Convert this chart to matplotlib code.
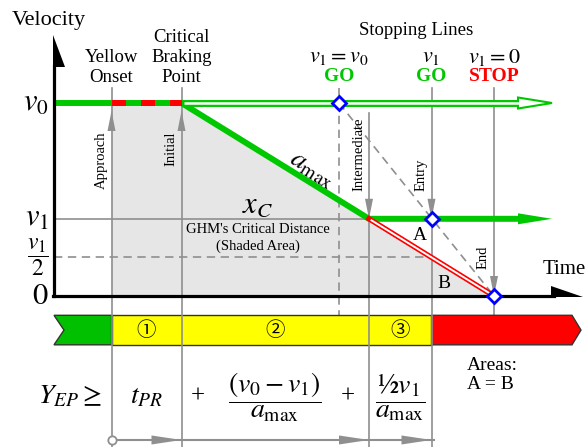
import numpy as np
import matplotlib.pyplot as plt
from matplotlib.patches import Polygon

plt.rcParams['font.family'] = ['Liberation Serif', 'DejaVu Serif']
plt.rcParams['mathtext.fontset'] = 'stix'
plt.rcParams['lines.scale_dashes'] = False

# speeds, relative to the approach speed
v0 = 1.0
v1 = 0.40

# key instants along the time axis
t_onset = 1.15   # yellow onset
t_brake = 2.55   # critical braking point
t_go = 5.7       # stopping line when v1 = v0
t_inter = 6.3    # end of braking (intermediate)
t_entry = 7.55   # entry at v1
t_end = 8.8      # full stop
t_arrow = 9.28   # speed lines end in arrowheads here

phase_marks = ['\u2460', '\u2461', '\u2462']
phase_edges = [t_onset, t_brake, t_inter, t_entry]

# drawing scale: 50 px per time unit, 193 px per speed unit
PX_T = 1 / 50
PX_V = 1 / 193

GREEN = '#00c800'
RED = '#ff0000'
BLUE = '#0000ff'
GRAY = '#8f8f8f'
SHADE = '#e6e6e6'

fig = plt.figure(figsize=(5.87, 4.47), dpi=100)
ax = fig.add_axes([0, 0, 1, 1])
ax.set_xlim(-54 * PX_T, 533 * PX_T)
ax.set_ylim(-151 * PX_V, 296 * PX_V)
ax.axis('off')
y_bottom = ax.get_ylim()[0]


def head(x, y, direction, length, half, color, fill=None, lw=0.0, z=5):
    """Triangular arrowhead with its tip at (x, y); sizes in pixels."""
    if direction == 'right':
        L, H = length * PX_T, half * PX_V
        pts = [(x, y), (x - L, y + H), (x - L, y - H)]
    elif direction == 'up':
        L, H = length * PX_V, half * PX_T
        pts = [(x, y), (x - H, y - L), (x + H, y - L)]
    else:  # down
        L, H = length * PX_V, half * PX_T
        pts = [(x, y), (x - H, y + L), (x + H, y + L)]
    ax.add_patch(Polygon(pts, closed=True, facecolor=fill or color,
                         edgecolor=color, lw=lw, zorder=z))


# shaded critical distance under the speed profile
profile_t = [t_onset, t_brake, t_inter, t_end]
profile_v = [v0, v0, v1, 0]
ax.fill(profile_t + [t_onset], profile_v + [0], color=SHADE, lw=0, zorder=1)

# guide lines
top_v = 1.078
ax.plot([0, t_inter], [v1, v1], color=GRAY, lw=1.2, zorder=2)
ax.plot([0, t_entry], [v1 / 2, v1 / 2], color=GRAY, lw=1.2,
        dashes=(6, 4), zorder=2)
ax.plot([t_go, t_end], [v0, 0], color=GRAY, lw=1.2, dashes=(6, 4), zorder=2)
ax.plot([t_go, t_go], [top_v, -0.1], color=GRAY, lw=1.2, dashes=(6, 4), zorder=2)
for t in [t_onset, t_brake, t_entry]:
    ax.plot([t, t], [top_v, y_bottom], color=GRAY, lw=1.2, zorder=3)
ax.plot([t_inter, t_inter], [0.948, y_bottom], color=GRAY, lw=1.2, zorder=3)
ax.plot([t_end, t_end], [top_v, -0.1], color=GRAY, lw=1.2, zorder=2)

# arrowheads on the guide lines
for t in [t_onset, t_brake]:
    head(t, v0 - 8 * PX_V, 'up', 20, 4, GRAY, z=3)
for t in [t_inter, t_entry]:
    head(t, v1, 'down', 20, 4, GRAY, z=3)
head(t_end, 0, 'down', 20, 4, GRAY, z=3)

# axes with half arrowheads
ax.plot([0, 0], [0, 1.19], color='black', lw=2.3, zorder=6)
ax.plot([-0.03, 10.0], [0, 0], color='black', lw=2.3, zorder=6)
ax.add_patch(Polygon([(-0.03, 1.352), (-0.03, 1.185), (0.22, 1.185)],
                     closed=True, color='black', lw=0, zorder=6))
ax.add_patch(Polygon([(9.94, 0.052), (9.94, -0.006), (10.58, -0.006)],
                     closed=True, color='black', lw=0, zorder=6))

# approach speed: solid up to braking, red flashing during perception
ax.plot([0, t_brake, t_inter, t_arrow], [v0, v0, v1, v1], color=GREEN,
        lw=4.3, solid_joinstyle='miter', solid_capstyle='butt', zorder=4)
ax.plot([t_onset, t_brake], [v0, v0], color=RED, lw=4.3,
        dashes=(10.1, 10.8), dash_capstyle='butt', zorder=4)
head(t_arrow + 34 * PX_T, v1, 'right', 34, 5.5, GREEN, z=4)

# hollow line: keeps going at v0
ax.plot([t_brake, t_arrow], [v0, v0], color=GREEN, lw=5, solid_capstyle='butt', zorder=4)
head(t_arrow + 34 * PX_T, v0, 'right', 34, 5.5, GREEN, fill='white', lw=1.5, z=4)
ax.plot([t_brake + 0.04, t_arrow + 2 * PX_T], [v0, v0], color='white', lw=1.8,
        solid_capstyle='butt', zorder=4)

# stopping from v1 (red double line)
inset = 0.05 * v1 / (t_end - t_inter)
ax.plot([t_inter, t_end], [v1, 0], color=RED, lw=3.8, zorder=4)
ax.plot([t_inter + 0.05, t_end - 0.05], [v1 - inset, inset],
        color='white', lw=1.4, zorder=4)

# stopping-line markers
ax.plot([t_go, t_entry, t_end], [v0, v1, 0], 'D', ms=7.5, mfc='white',
        mec=BLUE, mew=2, zorder=8)

# axis labels
ax.text(-0.84, 1.43, 'Velocity', fontsize=16, ha='left', va='center')
ax.text(9.78, 0.135, 'Time', fontsize=15, ha='left', va='center')
lab_x = -0.1
ax.text(lab_x, v0, r'$v_0$', fontsize=22, ha='right', va='center')
ax.text(lab_x, v1, r'$v_1$', fontsize=22, ha='right', va='center')
ax.text(lab_x, v1 / 2, r'$\dfrac{v_1}{2}$', fontsize=17, ha='right', va='center')
ax.text(lab_x, 0, r'$0$', fontsize=22, ha='right', va='center')

# event labels on top
ax.text(t_onset, 1.088, 'Yellow\nOnset', fontsize=13.5, ha='center', va='bottom',
        linespacing=1.25)
ax.text(t_brake, 1.088, 'Critical\nBraking\nPoint', fontsize=13.5, ha='center',
        va='bottom', linespacing=1.25)
ax.text(7.24, 1.378, 'Stopping Lines', fontsize=13.5, ha='center', va='center')
for t, lab, word, col in [(t_go, r'$v_1 = v_0$', 'GO', GREEN),
                          (t_entry, r'$v_1$', 'GO', GREEN),
                          (t_end, r'$v_1 = 0$', 'STOP', RED)]:
    ax.text(t, 1.238, lab, fontsize=16, ha='center', va='center')
    ax.text(t, 1.135, word, fontsize=14, fontweight='bold', color=col,
            ha='center', va='center')

# rotated labels on the guide lines
ax.text(t_onset - 0.08, 0.85, 'Approach', fontsize=10.5, rotation=90,
        ha='right', va='top')
ax.text(t_brake - 0.08, 0.85, 'Initial', fontsize=10.5, rotation=90,
        ha='right', va='top')
ax.text(t_inter - 0.08, 0.544, 'Intermediate', fontsize=10.5, rotation=90,
        ha='right', va='bottom')
ax.text(t_entry - 0.08, 0.544, 'Entry', fontsize=10.5, rotation=90,
        ha='right', va='bottom')
ax.text(t_end - 0.08, 0.14, 'End', fontsize=10.5, rotation=90,
        ha='right', va='bottom')

# annotations inside the plot
ax.text(5.16, 0.655, r'$a_{\max}$', fontsize=20, rotation=-32,
        ha='center', va='center')
ax.text(4.08, 0.47, r'$x_C$', fontsize=22, ha='center', va='center')
ax.text(4.08, 0.30, "GHM's Critical Distance\n(Shaded Area)", fontsize=10.5,
        ha='center', va='center', linespacing=1.3)
ax.text(7.32, 0.311, 'A', fontsize=14, ha='center', va='center')
ax.text(7.8, 0.067, 'B', fontsize=14, ha='center', va='center')

# signal phase band
band_top, band_bot = -0.10, -0.253
band_mid = (band_top + band_bot) / 2
ax.add_patch(Polygon([(0, band_top), (t_onset, band_top), (t_onset, band_bot),
                      (0, band_bot), (10 * PX_T, band_mid)], closed=True,
                     facecolor='#00c000', edgecolor='#333333', lw=1, zorder=2))
ax.add_patch(Polygon([(t_onset, band_top), (t_entry, band_top),
                      (t_entry, band_bot), (t_onset, band_bot)], closed=True,
                     facecolor='#ffff00', edgecolor='#333333', lw=1, zorder=2))
ax.add_patch(Polygon([(t_entry, band_top), (10.36, band_top), (10.54, band_mid),
                      (10.36, band_bot), (t_entry, band_bot)], closed=True,
                     facecolor=RED, edgecolor='#333333', lw=1, zorder=2))
for mark, a, b in zip(phase_marks, phase_edges[:-1], phase_edges[1:]):
    ax.text((a + b) / 2, band_mid, mark, fontsize=14, ha='center', va='center',
            family=['Noto Sans CJK JP', 'DejaVu Sans'], zorder=7)

# yellow interval formula
y_f = -0.523
ax.text(0.32, y_f, r'$Y_{EP} \geq$', fontsize=20, ha='center', va='center')
ax.text((t_onset + t_brake) / 2, y_f, r'$t_{PR}$', fontsize=20, ha='center', va='center')
ax.text(2.88, y_f, '+', fontsize=18, ha='center', va='center')
ax.text((t_brake + t_inter) / 2, y_f, r'$\dfrac{\left(v_0 - v_1\right)}{a_{\max}}$',
        fontsize=20, ha='center', va='center')
ax.text(5.88, y_f, '+', fontsize=18, ha='center', va='center')
ax.text((t_inter + t_entry) / 2, y_f, r'$\dfrac{½ v_1}{a_{\max}}$',
        fontsize=20, ha='center', va='center')
ax.text(8.26, -0.41, 'Areas:\nA = B', fontsize=14, ha='left', va='center',
        linespacing=1.2)

# timeline arrows under the formula
y_tl = -0.746
ax.plot([t_onset, t_entry + 2 * PX_T], [y_tl, y_tl], color=GRAY, lw=1.5, zorder=3)
ax.plot([t_onset], [y_tl], 'o', ms=6, mfc='white', mec=GRAY, mew=1.3, zorder=4)
for t in phase_edges[1:]:
    head(t, y_tl, 'right', 30, 4.5, GRAY, z=4)

fig.savefig('out.png', dpi=100)
